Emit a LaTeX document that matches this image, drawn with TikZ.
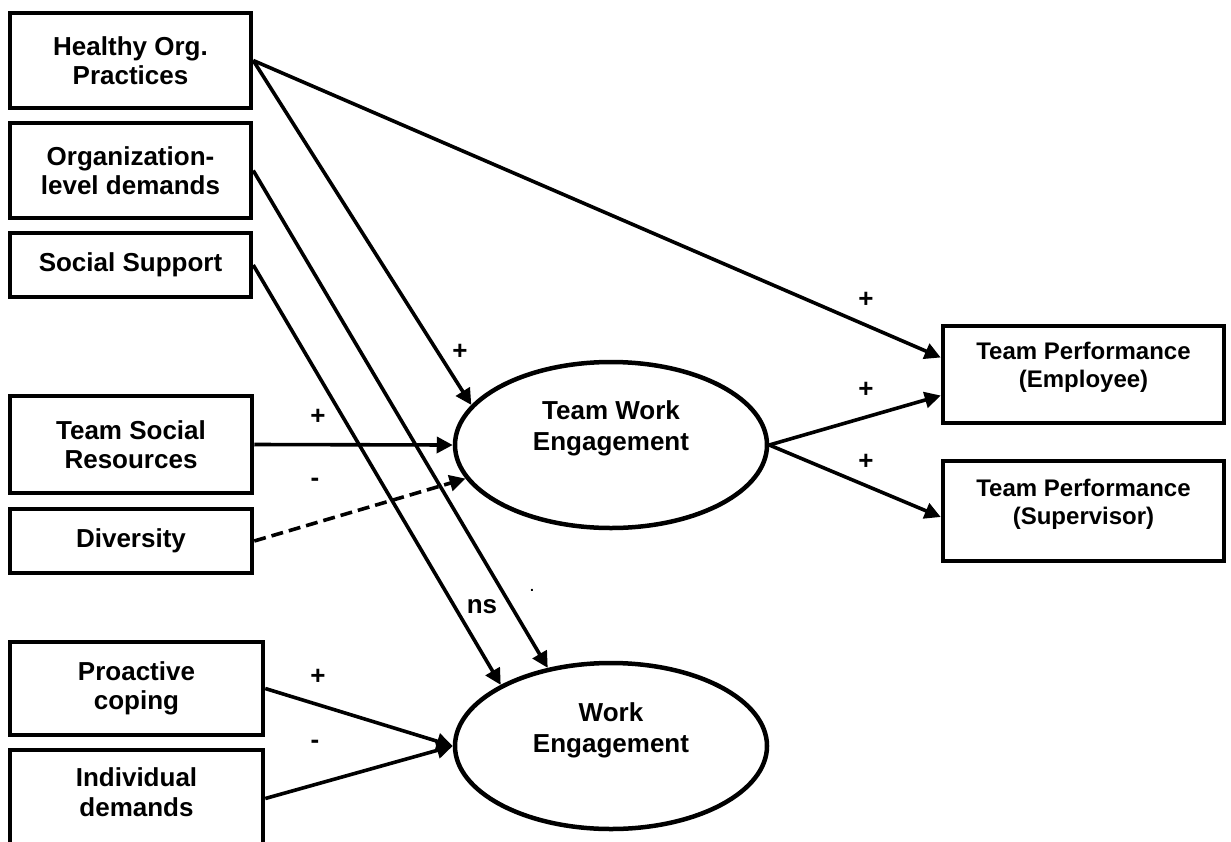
\documentclass[tikz,border=0pt]{standalone}
\usepackage{fontspec}
\setmainfont{Liberation Sans}
\usetikzlibrary{arrows.meta,shapes.geometric}

\begin{document}
\begin{tikzpicture}[x=1pt, y=-1pt, >={Triangle[length=16pt,width=16pt]},
    box/.style={draw, line width=4.5pt, inner sep=0pt, align=center,
        font=\bfseries\fontsize{26}{29.5}\selectfont},
    txt/.style={inner sep=0pt, align=center, font=\bfseries\fontsize{26}{31}\selectfont},
    outtxt/.style={inner sep=0pt, align=center, font=\bfseries\fontsize{24}{28}\selectfont},
    latent/.style={draw, ellipse, line width=4.5pt, minimum width=312pt, minimum height=166pt},
    path/.style={line width=3.6pt, ->},
    sign/.style={inner sep=0pt, font=\bfseries\fontsize{26}{30}\selectfont}]
    \useasboundingbox (0,0) rectangle (1231,841);
    \clip (0,0) rectangle (1231,841);

    % Predictors
    \node[box, minimum width=241pt, minimum height=95pt] (hop) at (130.5,60.5) {Healthy Org.\\Practices};
    \node[box, minimum width=241pt, minimum height=95pt] (old) at (130.5,170.5) {Organization-\\level demands};
    \node[box, minimum width=241pt, minimum height=64pt] (ss) at (130.5,265) {Social Support};
    \node[box, minimum width=242pt, minimum height=97pt] (tsr) at (131,444.5) {Team Social\\Resources};
    \node[box, minimum width=242pt, minimum height=64pt] (div) at (131,541) {Diversity};
    \node[box, minimum width=253pt, minimum height=93pt] (pc) at (136.5,688.5) {Proactive\\coping};
    \node[box, minimum width=253pt, minimum height=97pt] (id) at (136.5,798.5) {};
    \node[box, draw=none] (idText) at ([yshift=6.5pt]id.center) {Individual\\demands};

    % Engagement
    \node[latent] (twe) at (611,445) {};
    \node[txt] (tweText) at ([yshift=17pt]twe.center) {Team Work\\Engagement};
    \node[latent] (we) at (611,746) {};
    \node[txt] (weText) at ([yshift=16pt]we.center) {Work\\Engagement};

    % Team performance
    \node[box, minimum width=281pt, minimum height=97pt] (tpe) at (1083.5,374.5) {};
    \node[outtxt] (tpeText) at ([yshift=7pt]tpe.center) {Team Performance\\(Employee)};
    \node[box, minimum width=281pt, minimum height=100pt] (tps) at (1083.5,511) {};
    \node[outtxt] (tpsText) at ([yshift=7pt]tps.center) {Team Performance\\(Supervisor)};

    % Paths
    \draw[path] (hop.east) -- (twe.164);
    \draw[path] (tsr.east) -- (twe.west);
    \draw[path, dash pattern=on 12pt off 6pt] (div.east) -- (twe.193);
    \draw[path] (old.east) -- (we.129);
    \draw[path] (ss.east) -- (we.151);
    \draw[path] (pc.east) -- (we.west);
    \draw[path] (id.east) -- (we.west);
    \draw[path] (hop.east) -- ([yshift=17pt]tpe.west);
    \draw[path] (twe.east) -- ([yshift=-21pt]tpe.west);
    \draw[path] (twe.east) -- ([yshift=-6pt]tps.west);

    % Signs
    \node[sign] (sHopTwe) at (460,352) {+};
    \node[sign] (sTsr) at (318,417) {+};
    \node[sign] (sDiv) at (315,482) {-};
    \node[sign] (sSs) at (482,607) {ns};
    \node[inner sep=0pt, font=\bfseries\fontsize{14}{16}\selectfont] (sOld) at (532,590) {.};
    \node[sign] (sPc) at (318,677) {+};
    \node[sign] (sId) at (315,744) {-};
    \node[sign] (sHopTpe) at (866,300) {+};
    \node[sign] (sTweTpe) at (866,390) {+};
    \node[sign] (sTweTps) at (866,462) {+};
\end{tikzpicture}
\end{document}
